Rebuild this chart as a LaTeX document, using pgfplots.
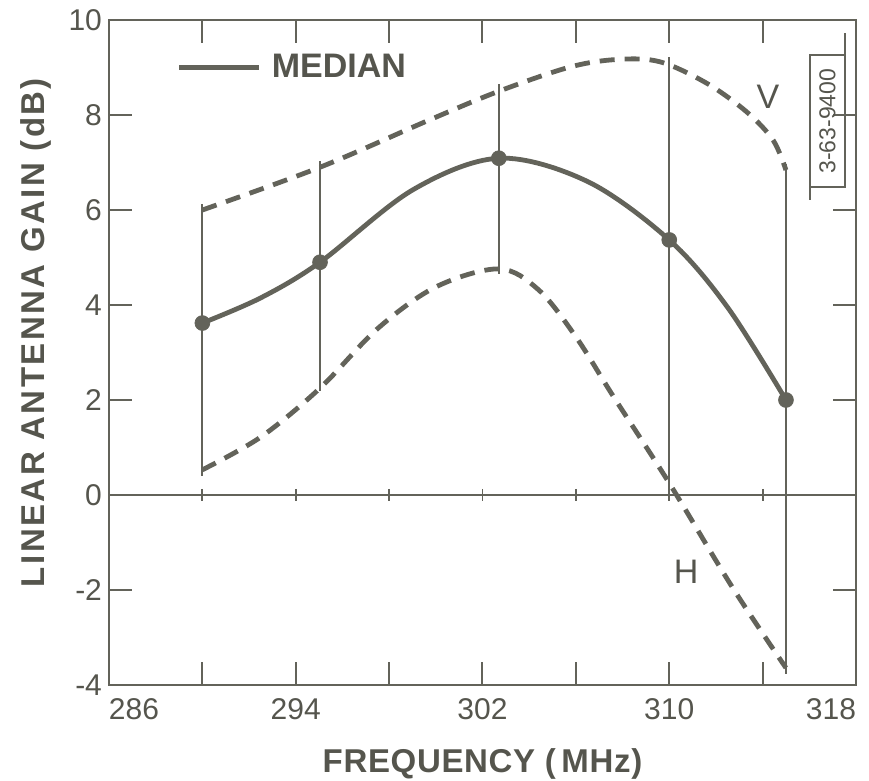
\documentclass[border=0pt]{standalone}
\usepackage{fontspec}
\setmainfont{Liberation Sans}
\newfontfamily\ylabfont{Liberation Sans}[LetterSpace=7.4]
\newfontfamily\xlabfont{Liberation Sans}[LetterSpace=2]
\usepackage{pgfplots}
\pgfplotsset{compat=1.18}
\definecolor{ink}{HTML}{63635A}
\definecolor{txt}{HTML}{55554D}
\begin{document}
\begin{tikzpicture}
\useasboundingbox (0,0) rectangle (434.5pt,390.5pt);
\begin{axis}[
  at={(54.5pt,48pt)}, anchor=south west,
  scale only axis, width=373.5pt, height=332.5pt,
  xmin=286, xmax=318, ymin=-4, ymax=10,
  xtick={286,290,...,318},
  xticklabels={\makebox[0pt][l]{286},,294,,302,,310,,\makebox[0pt][r]{318}},
  ytick={-4,-2,...,10},
  yticklabels={-4,-2,0,2,4,6,8,10},
  tick align=inside, major tick length=11.5pt,
  axis line style={ink, line width=1.2pt},
  tick style={ink, line width=1pt},
  ticklabel style={font=\fontsize{15}{15}\selectfont, text=txt},
  xticklabel style={yshift=-3pt},
  every axis x label/.style={at={(axis description cs:0.5,0)}, yshift=-39.5pt, anchor=center},
  every axis y label/.style={at={(axis description cs:0,0.53)}, xshift=-36.5pt, anchor=center, rotate=90},
  xlabel={\xlabfont\bfseries FREQUENCY (\,MHz)},
  ylabel={\ylabfont\bfseries LINEAR ANTENNA GAIN (dB)},
  label style={font=\fontsize{16.5}{16.5}\selectfont, text=txt},
  legend style={draw=none, fill=none, at={(axis cs:288.9,9.0)}, anchor=west, inner sep=0pt,
    font=\fontsize{17}{17}\selectfont\bfseries, text=txt},
  legend image code/.code={\draw[ink, line width=2.4pt] (0pt,0pt) -- (40pt,0pt); \path (43pt,0pt);},
  clip=false,
]
% median curve
\addplot[ink, line width=2.4pt, smooth, tension=0.55] coordinates {
(290,3.62) (292.5,4.15) (295.04,4.9) (299,6.42) (302.7,7.09)
(306.5,6.6) (310,5.37) (312.5,3.95) (315,2.0)};
\addlegendentry{MEDIAN}
% zero line
\addplot[ink, line width=1pt, forget plot] coordinates {(286,0) (318,0)};
\addplot[only marks, mark=|, mark size=3pt, ink, mark options={line width=0.9pt}, forget plot]
 coordinates {(290,0) (294,0) (298,0) (302,0) (306,0) (310,0) (314,0)};
% error bars
\addplot[draw=none, mark=none, forget plot,
  error bars/.cd, y dir=both, y explicit, error mark=-,
  error mark options={ink, line width=1pt, mark size=3pt},
  error bar style={ink, line width=1pt}] coordinates {
(290,3.62) += (0,2.38) -= (0,3.09)
(295.04,4.9) += (0,2.0) -= (0,2.58)
(302.7,7.09) += (0,1.43) -= (0,2.31)
(310,5.37) += (0,3.72) -= (0,5.12)
(315,2.0) += (0,4.84) -= (0,5.64)
};
% V envelope
\addplot[ink, line width=2.4pt, dash pattern=on 7.5pt off 5pt, smooth, tension=0.55, forget plot] coordinates {
(290,6.0) (295.04,6.9) (299.7,7.89) (302.7,8.5) (305.75,9.01) (307.8,9.17)
(309.6,9.12) (311.6,8.67) (313.33,8.06) (314.45,7.47) (315,6.84)};
% H envelope
\addplot[ink, line width=2.4pt, dash pattern=on 7.5pt off 5pt, smooth, tension=0.55, forget plot] coordinates {
(290,0.53) (292.5,1.22) (295.04,2.25) (297.5,3.5) (300,4.38) (302.7,4.76)
(304.4,4.32) (306.0,3.33) (307.6,2.08) (310,0.25) (312.7,-1.94) (315,-3.64)};
% median points
\addplot[only marks, mark=*, mark size=3.7pt, ink, forget plot] coordinates {
(290,3.62) (295.04,4.9) (302.7,7.09) (310,5.37) (315,2.0)};
% labels
\node[text=txt, font=\fontsize{17}{17}\selectfont] at (axis cs:314.23,8.38) {V};
\node[text=txt, font=\fontsize{17}{17}\selectfont] at (axis cs:310.72,-1.62) {H};
% stamp
\draw[ink, line width=0.8pt] (axis cs:316.03,9.26) rectangle (axis cs:317.53,6.48);
\draw[ink, line width=0.8pt] (axis cs:317.53,9.26) -- (axis cs:317.53,9.72);
\draw[ink, line width=0.8pt] (axis cs:316.03,6.48) -- (axis cs:316.03,6.22);
\node[rotate=90, text=txt, font=\fontsize{11.5}{11.5}\selectfont] at (axis cs:316.78,7.87) {3-63-9400};
\end{axis}
\end{tikzpicture}
\end{document}
